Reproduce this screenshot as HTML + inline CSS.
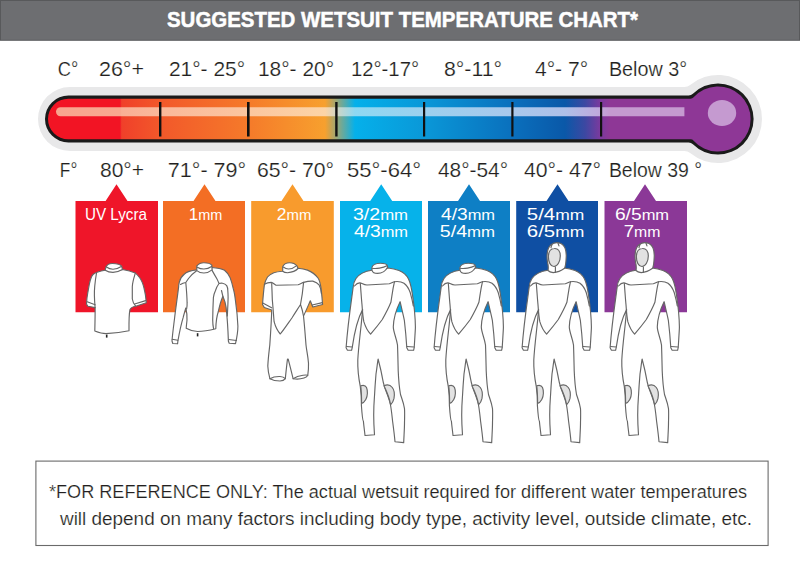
<!DOCTYPE html>
<html><head><meta charset="utf-8">
<style>
html,body{margin:0;padding:0;background:#fff;width:800px;height:570px;overflow:hidden}
svg{display:block}
text{font-family:"Liberation Sans",sans-serif}
</style></head>
<body>
<svg width="800" height="570" viewBox="0 0 800 570">
<rect x="0" y="0" width="800" height="40.8" fill="#58595b"/>
<rect x="1" y="1" width="798" height="38.8" fill="#6d6e71"/>
<defs>
<linearGradient id="tg" gradientUnits="userSpaceOnUse" x1="45" y1="0" x2="755" y2="0">
<stop offset="0" stop-color="#f21424"/>
<stop offset="0.1056" stop-color="#f21424"/>
<stop offset="0.108" stop-color="#f0402a"/>
<stop offset="0.1620" stop-color="#f2582a"/>
<stop offset="0.2859" stop-color="#f57a2a"/>
<stop offset="0.3944" stop-color="#f7a02e"/>
<stop offset="0.4366" stop-color="#05b0ea"/>
<stop offset="0.5338" stop-color="#0a98d8"/>
<stop offset="0.6577" stop-color="#0a70bd"/>
<stop offset="0.7324" stop-color="#0a58a8"/>
<stop offset="0.7606" stop-color="#3c48a2"/>
<stop offset="0.7817" stop-color="#7a3a9e"/>
<stop offset="0.7958" stop-color="#8e3796"/>
<stop offset="1" stop-color="#8e3796"/>
</linearGradient>
<linearGradient id="hg" gradientUnits="userSpaceOnUse" x1="45" y1="0" x2="755" y2="0">
<stop offset="0" stop-color="#f8a48e"/>
<stop offset="0.1056" stop-color="#f8a890"/>
<stop offset="0.108" stop-color="#f9b096"/>
<stop offset="0.1620" stop-color="#fab89a"/>
<stop offset="0.2859" stop-color="#fbc6a0"/>
<stop offset="0.3944" stop-color="#fcd4a6"/>
<stop offset="0.4366" stop-color="#8ed8f2"/>
<stop offset="0.5338" stop-color="#9cd0ee"/>
<stop offset="0.6577" stop-color="#a8c8ec"/>
<stop offset="0.7324" stop-color="#afc0e8"/>
<stop offset="0.7817" stop-color="#c0a8dc"/>
<stop offset="0.7958" stop-color="#c59ad0"/>
<stop offset="1" stop-color="#c59ad0"/>
</linearGradient>
</defs>
<path d="M70.00,87.00 H684.41 A9,9 0 0 0 690.12,84.96 A44,44 0 1 1 690.12,153.04 A9,9 0 0 0 684.41,151.00 H70.00 A32,32 0 0 1 70.00,87.00 Z" fill="#e8e8e9"/>
<path d="M68.50,95.50 H688.67 A6,6 0 0 0 692.90,93.75 A35.6,35.6 0 1 1 692.90,144.25 A6,6 0 0 0 688.67,142.50 H68.50 A23.5,23.5 0 0 1 68.50,95.50 Z" fill="#1a1a1a"/>
<path d="M68.30,98.70 H690.63 A4,4 0 0 0 693.62,97.36 A32.6,32.6 0 1 1 693.62,140.64 A4,4 0 0 0 690.63,139.30 H68.30 A20.3,20.3 0 0 1 68.30,98.70 Z" fill="url(#tg)"/>
<path d="M60.5,107.2 H684.4 V116.2 H60.5 A4.5,4.5 0 0 1 60.5,107.2 Z" fill="url(#hg)"/>
<ellipse cx="722" cy="113" rx="14.2" ry="13" fill="#c59ad0"/>
<g fill="#111">
<rect x="159" y="102" width="2.4" height="34.5"/>
<rect x="247" y="102" width="2.6" height="34.5"/>
<rect x="335.2" y="102" width="2.4" height="34.5"/>
<rect x="423" y="102" width="2.2" height="34.5"/>
<rect x="511.3" y="102" width="2.2" height="34.5"/>
<rect x="600" y="102" width="2.2" height="34.5"/>
</g>

<g>
<path d="M75.5,201 H105.6 L116.5,184.2 L127.5,201 H158 V312.2 H75.5 Z" fill="#ef1529"/>
<path d="M163,201 H193.5 L204.5,184.2 L215.5,201 H245 V312.2 H163 Z" fill="#f36e24"/>
<path d="M251.2,201 H281.5 L292.5,184.2 L303.5,201 H333.8 V312.2 H251.2 Z" fill="#f89b2d"/>
<path d="M340,201 H370.2 L381.2,184.2 L392.2,201 H422 V312.2 H340 Z" fill="#06b2ea"/>
<path d="M428,201 H458 L469,184.2 L480,201 H510 V312.2 H428 Z" fill="#0e7fc5"/>
<path d="M516.2,201 H546.5 L557.5,184.2 L568.5,201 H598 V312.2 H516.2 Z" fill="#0f4fa3"/>
<path d="M604.5,201 H634 L645,184.2 L656,201 H687 V312.2 H604.5 Z" fill="#8b3897"/>
</g>
<text id="t0" x="166.99" y="27.2" font-size="21.5" font-weight="bold" fill="#fff" stroke="#fff" stroke-width="0.5" textLength="471.01" lengthAdjust="spacingAndGlyphs">SUGGESTED WETSUIT TEMPERATURE CHART*</text>
<text id="c0" x="57.75" y="75.75" font-size="21" font-weight="normal" fill="#231f20" stroke="#fff" stroke-width="0.2" textLength="20.53" lengthAdjust="spacingAndGlyphs">C°</text>
<text id="c1" x="98.95" y="75.75" font-size="21" font-weight="normal" fill="#231f20" stroke="#fff" stroke-width="0.2" textLength="45.10" lengthAdjust="spacingAndGlyphs">26°+</text>
<text id="c2" x="168.93" y="75.75" font-size="21" font-weight="normal" fill="#231f20" stroke="#fff" stroke-width="0.2" textLength="76.16" lengthAdjust="spacingAndGlyphs">21°- 25°</text>
<text id="c3" x="257.90" y="75.75" font-size="21" font-weight="normal" fill="#231f20" stroke="#fff" stroke-width="0.2" textLength="76.21" lengthAdjust="spacingAndGlyphs">18°- 20°</text>
<text id="c4" x="350.89" y="75.75" font-size="21" font-weight="normal" fill="#231f20" stroke="#fff" stroke-width="0.2" textLength="68.23" lengthAdjust="spacingAndGlyphs">12°-17°</text>
<text id="c5" x="443.95" y="75.75" font-size="21" font-weight="normal" fill="#231f20" stroke="#fff" stroke-width="0.2" textLength="58.13" lengthAdjust="spacingAndGlyphs">8°-11°</text>
<text id="c6" x="534.94" y="75.75" font-size="21" font-weight="normal" fill="#231f20" stroke="#fff" stroke-width="0.2" textLength="53.15" lengthAdjust="spacingAndGlyphs">4°- 7°</text>
<text id="c7" x="608.90" y="75.75" font-size="21" font-weight="normal" fill="#231f20" stroke="#fff" stroke-width="0.2" textLength="78.16" lengthAdjust="spacingAndGlyphs">Below 3°</text>
<text id="f0" x="59.84" y="177" font-size="21" font-weight="normal" fill="#231f20" stroke="#fff" stroke-width="0.2" textLength="17.46" lengthAdjust="spacingAndGlyphs">F°</text>
<text id="f1" x="99.94" y="177" font-size="21" font-weight="normal" fill="#231f20" stroke="#fff" stroke-width="0.2" textLength="44.16" lengthAdjust="spacingAndGlyphs">80°+</text>
<text id="f2" x="167.87" y="177" font-size="21" font-weight="normal" fill="#231f20" stroke="#fff" stroke-width="0.2" textLength="78.27" lengthAdjust="spacingAndGlyphs">71°- 79°</text>
<text id="f3" x="256.92" y="177" font-size="21" font-weight="normal" fill="#231f20" stroke="#fff" stroke-width="0.2" textLength="77.17" lengthAdjust="spacingAndGlyphs">65°- 70°</text>
<text id="f4" x="346.95" y="177" font-size="21" font-weight="normal" fill="#231f20" stroke="#fff" stroke-width="0.2" textLength="74.16" lengthAdjust="spacingAndGlyphs">55°-64°</text>
<text id="f5" x="437.96" y="177" font-size="21" font-weight="normal" fill="#231f20" stroke="#fff" stroke-width="0.2" textLength="70.09" lengthAdjust="spacingAndGlyphs">48°-54°</text>
<text id="f6" x="523.97" y="177" font-size="21" font-weight="normal" fill="#231f20" stroke="#fff" stroke-width="0.2" textLength="77.11" lengthAdjust="spacingAndGlyphs">40°- 47°</text>
<text id="f7" x="608.91" y="177" font-size="21" font-weight="normal" fill="#231f20" stroke="#fff" stroke-width="0.2" textLength="93.13" lengthAdjust="spacingAndGlyphs">Below 39 °</text>
<text id="b0" x="84.90" y="220" font-size="16.6" font-weight="normal" fill="#fff" textLength="62.15" lengthAdjust="spacingAndGlyphs">UV Lycra</text>
<text id="b1" x="188.77" y="220" font-size="16.6" font-weight="normal" fill="#fff" textLength="33.56" lengthAdjust="spacingAndGlyphs">1<tspan font-size="14.2">mm</tspan></text>
<text id="b2" x="276.87" y="220" font-size="16.6" font-weight="normal" fill="#fff" textLength="34.51" lengthAdjust="spacingAndGlyphs">2<tspan font-size="14.2">mm</tspan></text>
<text id="b3" x="352.92" y="219.5" font-size="16.6" font-weight="normal" fill="#fff" textLength="55.14" lengthAdjust="spacingAndGlyphs">3/2<tspan font-size="14.2">mm</tspan></text>
<text id="b4" x="353.96" y="237" font-size="16.6" font-weight="normal" fill="#fff" textLength="54.08" lengthAdjust="spacingAndGlyphs">4/3<tspan font-size="14.2">mm</tspan></text>
<text id="b5" x="440.95" y="219.5" font-size="16.6" font-weight="normal" fill="#fff" textLength="54.12" lengthAdjust="spacingAndGlyphs">4/3<tspan font-size="14.2">mm</tspan></text>
<text id="b6" x="439.84" y="237" font-size="16.6" font-weight="normal" fill="#fff" textLength="55.22" lengthAdjust="spacingAndGlyphs">5/4<tspan font-size="14.2">mm</tspan></text>
<text id="b7" x="526.86" y="219.5" font-size="16.6" font-weight="normal" fill="#fff" textLength="57.42" lengthAdjust="spacingAndGlyphs">5/4<tspan font-size="14.2">mm</tspan></text>
<text id="b8" x="526.82" y="237" font-size="16.6" font-weight="normal" fill="#fff" textLength="57.50" lengthAdjust="spacingAndGlyphs">6/5<tspan font-size="14.2">mm</tspan></text>
<text id="b9" x="614.90" y="219.5" font-size="16.6" font-weight="normal" fill="#fff" textLength="54.18" lengthAdjust="spacingAndGlyphs">6/5<tspan font-size="14.2">mm</tspan></text>
<text id="b10" x="623.76" y="237" font-size="16.6" font-weight="normal" fill="#fff" textLength="36.59" lengthAdjust="spacingAndGlyphs">7<tspan font-size="14.2">mm</tspan></text>
<text id="n0" x="49.00" y="497.6" font-size="18.8" font-weight="normal" fill="#231f20" stroke="#fff" stroke-width="0.2" textLength="698.00" lengthAdjust="spacingAndGlyphs">*FOR REFERENCE ONLY: The actual wetsuit required for different water temperatures</text>
<text id="n1" x="59.99" y="524.5" font-size="18.8" font-weight="normal" fill="#231f20" stroke="#fff" stroke-width="0.2" textLength="692.01" lengthAdjust="spacingAndGlyphs">will depend on many factors including body type, activity level, outside climate, etc.</text>
<defs>
<g id="suit">
<path d="M372,270.2 C366,271 359,274 356,278.5 C354,281.5 353.4,284 353.2,287 C351.5,300 348,322 346.1,347.7 L347.3,350.1 L351.6,350.3 L352.2,347.7 C354,335 358,318 362.6,309.6 C361.5,325 358.5,345 357.8,360 C357.5,371 359,380 360.3,386.6 C361.5,395 361.5,402 361.4,405.5 C362,414 363,421 363.4,421.3 C364,428 364.7,432 365,435.5 L374.5,434.7 C374,428 373.7,420 373.7,415 C373.7,405 374.2,400 374.5,396 C375,386 375.5,380 376,374 C377,368 377.5,362 378.1,359 C379.5,365 381,370 381.6,374 C382.5,378 383,382 384,385 C386,392 389,398 390.3,404 C391.5,410 392,416 392.6,421.3 C393.5,428 394.5,436 395,441.8 L403.7,442.6 C404,435 404.5,428 404.5,422.9 C404.7,415 404.7,411 404.5,408.7 C403.5,402 401.5,398 400.5,394.5 C399,386 398.5,378 398.2,370.8 C398,362 397.8,352 397.5,345 C396.5,338 393.3,332 393.3,326.8 C393.5,320 395,312 400.1,301.7 C402,310 404,318 404.4,320.7 C405.5,330 406.3,340 406.8,347.7 L408,350.1 L413.6,350.3 L414.2,347.7 C415,335 415.5,328 415.4,326.8 C415.3,318 414,305 412.5,295 C411.5,288 410.5,283 408.5,279 C406.5,275 403,272 399,270.5 C395,269 391,268.3 388.2,268 Z"/>
<path fill="#e2e2e2" d="M360.7,385.8 C363,385 365.5,385.3 366.5,387.5 C367.8,390.5 367.8,396 365.8,399.5 C364.5,401.8 363,403 361.6,403.4 C361.6,397 361.3,390 360.7,385.8 Z"/>
<path fill="#e2e2e2" d="M384,385.8 C386.5,384.6 390,384.6 392.3,387.5 C394.3,390 394.6,395 394,398.4 C393.3,401.5 392,403.5 390.6,404.7 C389.5,398 386.5,391 384,385.8 Z"/>
<path fill="none" d="M354.5,286 C357,283 360,282.5 362,283.5 C364,284.5 365,285 367,285 L389.3,283.8 C391.5,283.3 393,282 394.5,281.7 C398,281.3 402,282 404,283.3 C407,285.5 409,289 410.3,292.8 C411.5,297 412.5,301 413.3,306"/>
<path fill="none" d="M360.3,283.3 C361,292 361.5,300 362,304.7 C362.5,312 363,318 363.9,321.9 C365.5,327 368,331.5 370.6,334.2 C375,329 379,324 382.3,319.5 C386,313 389,307 390.9,302.3 C392,296 392.5,290 394.5,281.7"/>
<path fill="none" d="M346.5,346.5 L352,347"/>
<path fill="none" d="M407,346.5 L414,347"/>
</g>
<g id="collar">
<path d="M372,270.3 L371.9,267.5 C372.5,264.5 377,263.2 380.5,263.2 C384,263.2 386.8,264 387.2,265.5 L387.6,267.2 C385.5,271 381.5,273.4 377.5,273.4 C374.5,273.4 372.5,272 372,270.3 Z"/>
<path fill="none" d="M372.4,268.3 C376,269 383,268 387,265.8"/>
</g>
<g id="hood">
<path d="M372,270.5 C372.5,268 372.5,266 371.5,262 C370.5,256 371,248 375,244.8 C378,242.5 382,242.2 385,243.5 C389,245.5 390.5,251 390.2,257 C390,262 389.5,266 388.6,268.3 C385,271 380,272.5 377.2,272.6 C375,272.3 373,271.5 372,270.5 Z"/>
<path fill="#e2e2e2" d="M378.3,248.5 C382,248.2 384.3,251 384.3,256 C384.3,261.5 381.5,266.5 378,266.5 C374.5,266.5 372.4,262 372.4,257 C372.4,252 374.5,248.7 378.3,248.5 Z"/>
<path fill="none" d="M375,247.6 C375.2,246.3 375.6,245.2 376,244.6 M383,246 C382.8,245 382.3,244 382,243.2 M379.4,267 L379.4,272.3"/>
</g>
</defs>

<g fill="#fff" stroke="#666" stroke-width="1.15" stroke-linejoin="round" stroke-linecap="round">
<!-- fig1 tshirt -->
<path d="M105.2,270.2 C100,271 96,272 93,274.5 C89.5,278 88.5,290 87.9,292 C87,297 86.6,301 86.5,304 L87.9,306.2 L95.1,307.6 C95.2,315 95,323 94.8,331 C100,333 104,333.6 106,333.6 C112,333.5 121,332.5 129,330.8 C128.9,320 129.2,313 130,309.5 C131,307.5 133,306.5 135.8,306.2 L146.3,302.7 C145.8,296 144.8,291 144,288 C143,284 141.5,280 139.5,277.5 C138,275.5 136.5,274 135.3,273.1 C131,271 126,270 122.4,269.5 Z"/>
<path fill="none" d="M96.5,273 C95,282 94.3,292 94.4,295.4 C94.5,300 94.8,304 95.1,307.6"/>
<path fill="none" d="M135.3,273.1 C133.5,279 132.3,283 132.3,286.7 C132.3,292 132.3,296 132.3,299 C132.8,302 134,304.5 135.6,306"/>
<path fill="none" d="M87.2,301.8 L95.1,304.7 M134.6,304 L145.6,300.6"/>
<path d="M105.2,270.2 L105.9,267.3 C107,264.5 109.5,263.5 112.3,263.5 C116,263.5 120.5,264.3 121.7,266.3 L122.4,269.5 C119,271.5 116,272.4 113,272.4 C110,272.4 107,271.4 105.2,270.2 Z"/>
<path fill="none" d="M106.4,267 C108.5,268.5 111,269.2 113,269.2 C116,269.2 119,268 121.3,266.5"/>
<rect x="105.9" y="334.6" width="1.6" height="3" fill="#222" stroke="none"/>

<!-- fig2 long sleeve -->
<path d="M196.8,269.9 C191,270.5 186.5,272 184.5,274 C181.5,276.5 180,279 179.4,281.8 C178.8,284 178.6,286 178.6,287.1 C177,300 175.5,310 174.6,318 C173.5,327 172.5,334 172,341 L172.8,343.5 L177.6,343.8 L177.9,341 C179.5,332 181.5,323 183.2,317.4 C184,314 185,311 185.8,308 C186.8,312 187.2,316 187,320 C186.7,323 186.3,326 186.2,328.3 C190,330.5 194,331.5 197.6,331.5 C203,331.5 209,330.5 215.8,328.8 C216,322 216.8,316 218.2,312 C219.5,306 221.2,300 222.9,296.3 C224.5,300 225.6,304 226.1,307.4 C227.3,318 228,330 228.4,341.3 L229.2,343.3 L235.5,343.6 C236.8,338 237.9,332 237.9,326.3 C237.5,316 236.5,308 235.5,301 C234.8,295 234,291 233.2,288.4 C232,283 231,280 230,277.4 C228,273.5 226,271.5 224.5,270.3 C221,268.5 216,267.8 211.8,267.5 Z"/>
<path fill="none" d="M196.6,270.8 C193.5,273 190.5,276 188.5,278.5 C187.5,280 186.6,281.3 185.8,282.5 C183.5,283 182,283.6 180.5,284.5 M185.8,282.5 C186.5,290 187,297 187.1,302.9 C187.2,305 187,307 186.6,309"/>
<path fill="none" d="M211.8,269.9 C213.5,273 215.5,276.5 217,279 C217.8,280.5 218.4,282 219,283.5 C217.5,285.5 216.3,288 215.5,290.5 C214.3,293 213.7,295 213.4,297.5 C213,305 212.8,313 212.7,320 C212.7,323 213,326 213.6,328.8 M219,283.5 C220.5,283 221.5,283.1 222.5,283.2 C224.3,283.6 225.8,284.5 226.7,285.6 C227.5,287 227.8,289 227.8,290.5 C228,293 228.1,295 228.1,297.5 C228,305 227.6,311 227.3,316 M221.5,290.5 L222.9,296.3"/>
<path fill="none" d="M172.2,339.3 L177.8,340.3 M228.7,339.5 L236.4,340.5"/>
<path d="M196.8,270.6 L196.8,265.9 C198.5,263.8 201.5,262.7 203.9,262.7 C207,262.7 210.5,263.5 211.8,265.1 L212.1,269.9 C209.5,272 206.5,273 203.9,273 C201,273 198.5,272 196.8,270.6 Z"/>
<path fill="none" d="M197.2,267.2 C199.5,268.5 202,269 203.9,269 C207,269 209.5,268 211.6,266.5"/>
<rect x="196.8" y="333.2" width="1.6" height="3.2" fill="#222" stroke="none"/>

<!-- fig3 shorty -->
<path d="M282.2,271.2 C279,271.5 276,272 273.8,272.7 C270.5,274 268.5,275.5 267.5,277 C265.5,280 264.8,283 264.3,285.4 C263.5,292 263,298 262.5,304.5 L264.3,307.5 L271.7,310 C271.5,320 270.5,335 269.8,345 C269,352 268.2,358 267.8,366.1 C268,371 268.8,375 269.9,378.7 C273,380.5 277,381 280,381 C282,381 284,380.5 285.3,378.7 C286,372 286.8,364 287.5,359.1 L288.2,359.1 C289.5,364 291.5,372 293.1,378.7 C297,379.5 301,379 304,378 C306,377.3 307.2,376.5 307.8,375.2 C308.5,370 308.6,366 308.5,363.3 C308,356 306.5,350 306,345 C305.2,335 304.5,325 303.5,316 C305.5,312 308,306 310.3,300.8 L312.8,307 L322.6,304.5 C322.2,299 321.7,294 321.2,289.6 C320.5,284 319.5,280 318,278 C315,274 311,271.5 307.5,270.1 C304,269 300.5,268.5 298,268.2 Z"/>
<path fill="none" d="M264.3,284.2 C266.5,283 269,282.4 271.1,282.4 C273,282.8 274.5,284.5 276,285.2 L298.1,284.8 C300,284.3 302,283 303.6,282.4 C306.5,281.5 310,281 312.8,281.1 C315.5,282 317.5,283 319,284.8 C320.3,287 321,290 321.4,293.4"/>
<path fill="none" d="M271.7,283.6 C272,290 272.2,296 272.3,299.6 C273,307 273.5,315 274.1,321.7 C275.5,327 277.5,331 280.3,334 C284,329.5 288,323.5 291.9,318 C295,313 298,308.5 300.5,304.5 C302,297 303,289 303.6,282.4 M300.5,304.5 C301.8,308 302.8,312 303.5,316"/>
<path fill="none" d="M262.8,303 L271.6,307.8 M312.2,305 L322.3,302.6"/>
<path fill="none" d="M269.9,378.7 C273,376.8 277,376.4 280,376.5 C282.5,376.6 284.3,377.5 285.3,378.7 M293.1,378.7 C296,376.5 300,375.5 303,375.2 C305,375 306.8,375 307.8,375.2"/>
<path d="M282.7,271.2 L282.7,266.4 C284,264 286.5,262.7 289.6,262.7 C292.5,262.7 295.5,264 297,265.9 L298,268.5 C296,270.7 292,272.3 287.5,272.7 C285.5,272.7 283.8,272.2 282.7,271.2 Z"/>
<path fill="none" d="M283.3,267 C285,268.3 287,269 288.5,269 C291.5,269 294.5,267.5 296.4,265.9"/>
</g>
<g fill="#fff" stroke="#666" stroke-width="1.15" stroke-linejoin="round" stroke-linecap="round">
<use href="#suit"/><use href="#collar"/>
<use href="#suit" x="88"/><use href="#collar" x="88"/>
<use href="#suit" x="176"/><use href="#hood" x="176"/>
<use href="#suit" x="264"/><use href="#hood" x="264"/>
</g>

<rect x="35.9" y="461.1" width="732.2" height="84.4" fill="none" stroke="#6a6a6a" stroke-width="1.1"/>
</svg>
</body></html>
